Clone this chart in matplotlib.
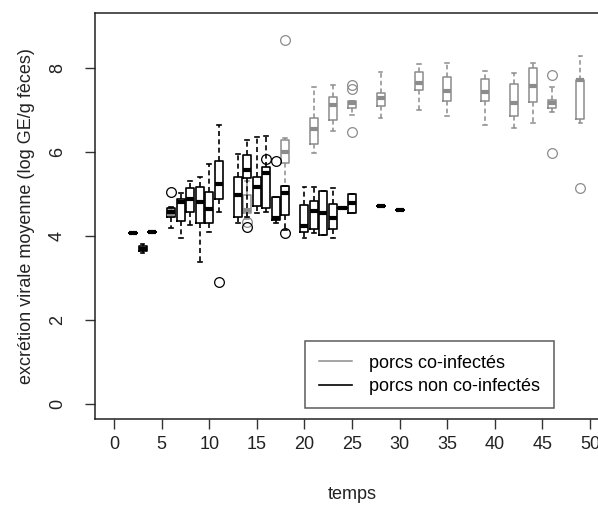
import numpy as np
import matplotlib.pyplot as plt
from matplotlib.lines import Line2D

plt.rcParams['font.family'] = ['Liberation Sans', 'DejaVu Sans']

# porcs non co-infectés (black boxes)
t_non = [2, 3, 4, 6, 7, 8, 9, 10, 11, 13, 14, 15, 16, 17, 18, 20, 21, 22, 23, 24, 25, 28, 30]
lo_non = [4.07, 3.6, 4.1, 4.2, 3.95, 4.26, 3.38, 4.1, 4.57, 4.31, 4.45, 4.55, 4.57, 4.31, 4.14,
          3.95, 4.07, 4.02, 3.95, 4.67, 4.55, 4.71, 4.62]
q1_non = [4.07, 3.63, 4.1, 4.45, 4.36, 4.57, 4.31, 4.31, 4.88, 4.45, 5.38, 4.71, 4.67, 4.38, 4.5,
          4.1, 4.17, 4.02, 4.17, 4.67, 4.55, 4.71, 4.62]
med_non = [4.07, 3.69, 4.1, 4.57, 4.81, 4.88, 4.81, 4.64, 5.24, 4.98, 5.57, 5.17, 5.5, 4.43, 5.02,
           4.24, 4.6, 4.55, 4.43, 4.67, 4.79, 4.71, 4.62]
q3_non = [4.07, 3.76, 4.1, 4.67, 4.88, 5.14, 5.17, 5.05, 5.79, 5.4, 5.93, 5.4, 5.64, 4.93, 5.19,
          4.74, 4.83, 5.07, 4.76, 4.67, 5.0, 4.71, 4.62]
hi_non = [4.07, 3.8, 4.1, 4.7, 5.02, 5.31, 5.4, 5.72, 6.64, 5.95, 6.29, 6.36, 6.38, 4.93, 5.19,
          5.17, 5.17, 5.07, 5.14, 4.67, 5.0, 4.71, 4.62]
out_non = [[], [], [], [5.05], [], [], [], [], [2.9], [], [4.21], [], [5.83], [5.79], [4.07],
           [], [], [], [], [], [], [], []]

# porcs co-infectés (grey boxes)
t_co = [6, 14, 18, 21, 23, 25, 28, 32, 35, 39, 42, 44, 46, 49]
lo_co = [4.45, 4.4, 5.2, 5.98, 6.5, 6.88, 6.8, 7.0, 6.86, 6.64, 6.57, 6.69, 6.95, 6.69]
q1_co = [4.45, 4.55, 5.74, 6.19, 6.76, 7.05, 7.1, 7.48, 7.21, 7.21, 6.86, 7.19, 7.05, 6.79]
med_co = [4.52, 4.62, 6.0, 6.55, 7.12, 7.17, 7.29, 7.64, 7.45, 7.43, 7.17, 7.57, 7.17, 7.71]
q3_co = [4.6, 4.98, 6.29, 6.81, 7.31, 7.21, 7.4, 7.9, 7.79, 7.74, 7.62, 8.0, 7.24, 7.71]
hi_co = [4.65, 5.3, 6.33, 7.55, 7.6, 7.21, 7.9, 8.1, 8.12, 7.93, 7.88, 8.12, 7.55, 8.29]
out_co = [[], [4.33], [8.67], [], [], [7.6, 7.5, 6.48], [], [], [], [], [], [], [7.83, 5.98], [5.14]]

x_ticks = list(range(0, 55, 5))
y_ticks = [0, 2, 4, 6, 8]

GREY = '#8c8c8c'
FS = 13


def make_stats(lo, q1, med, q3, hi, out):
    return [dict(whislo=a, q1=b, med=c, q3=d, whishi=e, fliers=f)
            for a, b, c, d, e, f in zip(lo, q1, med, q3, hi, out)]


def draw(ax, positions, stats, color, lw):
    ax.bxp(stats, positions=positions, widths=0.85, capwidths=0.4,
           manage_ticks=False,
           boxprops=dict(color=color, linewidth=lw),
           whiskerprops=dict(color=color, linewidth=lw, linestyle=(0, (3, 2))),
           capprops=dict(color=color, linewidth=lw),
           medianprops=dict(color=color, linewidth=3, solid_capstyle='butt'),
           flierprops=dict(marker='o', markerfacecolor='none', markeredgecolor=color,
                           markersize=7, markeredgewidth=0.9))


fig = plt.figure(figsize=(5.98, 5.08), dpi=100)
ax = fig.add_axes([95 / 598, 89 / 508, 514 / 598, 406 / 508])

draw(ax, t_co, make_stats(lo_co, q1_co, med_co, q3_co, hi_co, out_co), GREY, 1.1)
draw(ax, t_non, make_stats(lo_non, q1_non, med_non, q3_non, hi_non, out_non), 'black', 1.2)

ax.set_xlim(-2, 52)
ax.set_ylim(-0.36, 9.31)
ax.set_xticks(x_ticks)
ax.set_yticks(y_ticks)
ax.set_yticklabels([str(v) for v in y_ticks], rotation=90, va='center')
ax.tick_params(length=7, width=1, labelsize=FS, color='#333333', labelcolor='#222222')
ax.tick_params(axis='x', pad=5)
ax.tick_params(axis='y', pad=14)
for s in ax.spines.values():
    s.set_linewidth(1.1)
    s.set_color('#222222')

ax.set_xlabel('temps', fontsize=FS, labelpad=24, color='#222222')
ax.set_ylabel('excrétion virale moyenne (log GE/g fèces)', fontsize=FS, labelpad=10, color='#222222')

handles = [Line2D([], [], color=GREY, lw=1.1), Line2D([], [], color='black', lw=1.2)]
leg = ax.legend(handles, ['porcs co-infectés', 'porcs non co-infectés'],
                loc='upper left', bbox_to_anchor=(305 / 598, 1 - 341 / 508),
                bbox_transform=fig.transFigure, fontsize=FS, frameon=True,
                fancybox=False, edgecolor='#333333', handlelength=1.85,
                handletextpad=0.95, borderpad=0.75, labelspacing=0.35,
                borderaxespad=0)
leg.get_frame().set_linewidth(1.1)

fig.savefig('out.png', dpi=100)
